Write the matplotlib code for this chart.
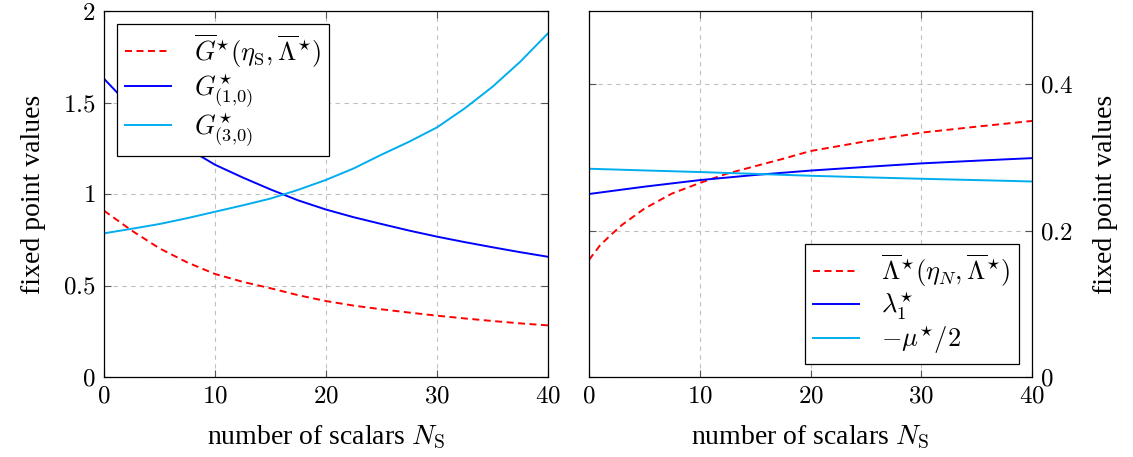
import numpy as np
import matplotlib
matplotlib.use('Agg')
import matplotlib.pyplot as plt

plt.rcParams['font.family'] = ['Liberation Serif', 'DejaVu Serif']
plt.rcParams['mathtext.fontset'] = 'cm'

# left panel data
x_left = [0, 2.5, 5, 7.5, 10, 12.5, 15, 17.5, 20, 22.5, 25, 27.5, 30, 32.5, 35, 37.5, 40]
g_bar = [0.909, 0.80, 0.703, 0.626, 0.563, 0.52, 0.485, 0.447, 0.415, 0.39, 0.37,
         0.352, 0.335, 0.32, 0.306, 0.293, 0.282]
g_10 = [1.63, 1.47, 1.35, 1.25, 1.16, 1.09, 1.025, 0.965, 0.915, 0.873, 0.836,
        0.80, 0.767, 0.737, 0.709, 0.682, 0.657]
g_30 = [0.785, 0.81, 0.836, 0.868, 0.903, 0.938, 0.975, 1.023, 1.077, 1.14, 1.215,
        1.286, 1.364, 1.468, 1.586, 1.723, 1.878]

# right panel data
x_lam_bar = [0, 1, 2, 3, 5, 7.5, 10, 12.5, 15, 17.5, 20, 25, 30, 35, 40]
lam_bar = [0.160, 0.180, 0.1945, 0.208, 0.230, 0.2507, 0.265, 0.278, 0.288, 0.298,
           0.3087, 0.322, 0.3338, 0.342, 0.3498]
x_right = [0, 5, 10, 15, 20, 25, 30, 35, 40]
lam_1 = [0.250, 0.260, 0.269, 0.276, 0.282, 0.287, 0.2918, 0.2955, 0.299]
mu_half = [0.2845, 0.2822, 0.280, 0.2775, 0.2749, 0.2728, 0.2708, 0.269, 0.2671]

x_ticks = [0, 10, 20, 30, 40]
x_labels = ['$0$', '$10$', '$20$', '$30$', '$40$']
yl_ticks = [0, 0.5, 1, 1.5, 2]
yl_labels = ['$0$', '$0.5$', '$1$', '$1.5$', '$2$']
yr_ticks = [0, 0.2, 0.4]
yr_labels = ['$0$', '$0.2$', '$0.4$']

RED = '#ff0000'
BLUE = '#0000ff'
CYAN = '#00adef'

fig = plt.figure(figsize=(11.33, 4.57), dpi=100)
ax1 = fig.add_axes([104/1133, 1-377/457, 444/1133, 366/457])
ax2 = fig.add_axes([589/1133, 1-377/457, 443/1133, 366/457])

dash = (3.6, 2.3)
lw = 1.4

ax1.plot(x_left, g_bar, color=RED, lw=lw, dashes=dash,
         label=r'$\overline{G}^{\star}(\eta_{\mathrm{S}},\overline{\Lambda}^{\star})$')
ax1.plot(x_left, g_10, color=BLUE, lw=lw, label=r'$G^{\star}_{(1{,}0)}$')
ax1.plot(x_left, g_30, color=CYAN, lw=lw, label=r'$G^{\star}_{(3{,}0)}$')

ax2.plot(x_lam_bar, lam_bar, color=RED, lw=lw, dashes=dash,
         label=r'$\overline{\Lambda}^{\star}(\eta_N,\overline{\Lambda}^{\star})$')
ax2.plot(x_right, lam_1, color=BLUE, lw=lw, label=r'$\lambda^{\star}_1$')
ax2.plot(x_right, mu_half, color=CYAN, lw=lw, label=r'$-\mu^{\star}/2$')

for ax in (ax1, ax2):
    ax.set_xlim(0, 40)
    ax.set_xticks(x_ticks)
    ax.set_xticklabels(x_labels)
    ax.grid(True, color='#c0c0c0', lw=0.8, dashes=(4, 4))
    ax.tick_params(direction='in', length=5, width=0.8, color='#555555',
                   top=True, right=True, left=True, labelsize=18, pad=6)
    ax.set_xlabel(r'number of scalars $N_{\mathrm{S}}$', fontsize=20, labelpad=12)
    for s in ax.spines.values():
        s.set_linewidth(0.9)

ax1.set_ylim(0, 2)
ax1.set_yticks(yl_ticks)
ax1.set_yticklabels(yl_labels)
ax1.set_ylabel('fixed point values', fontsize=20, labelpad=12)

ax2.set_ylim(0, 0.5)
ax2.set_yticks(yr_ticks)
ax2.set_yticklabels(yr_labels)
ax2.yaxis.set_label_position('right')
ax2.tick_params(labelleft=False, labelright=True)
ax2.set_ylabel('fixed point values', fontsize=20, labelpad=14, rotation=90)

leg_kw = dict(fontsize=19, fancybox=False, framealpha=1, edgecolor='black',
              handlelength=1.75, handletextpad=0.85, labelspacing=0.05,
              borderpad=0.3, borderaxespad=0.5)
l1 = ax1.legend(loc='upper left', **leg_kw)
l2 = ax2.legend(loc='lower right', **leg_kw)
for l in (l1, l2):
    l.get_frame().set_linewidth(0.9)

fig.savefig('out.png', dpi=100)
